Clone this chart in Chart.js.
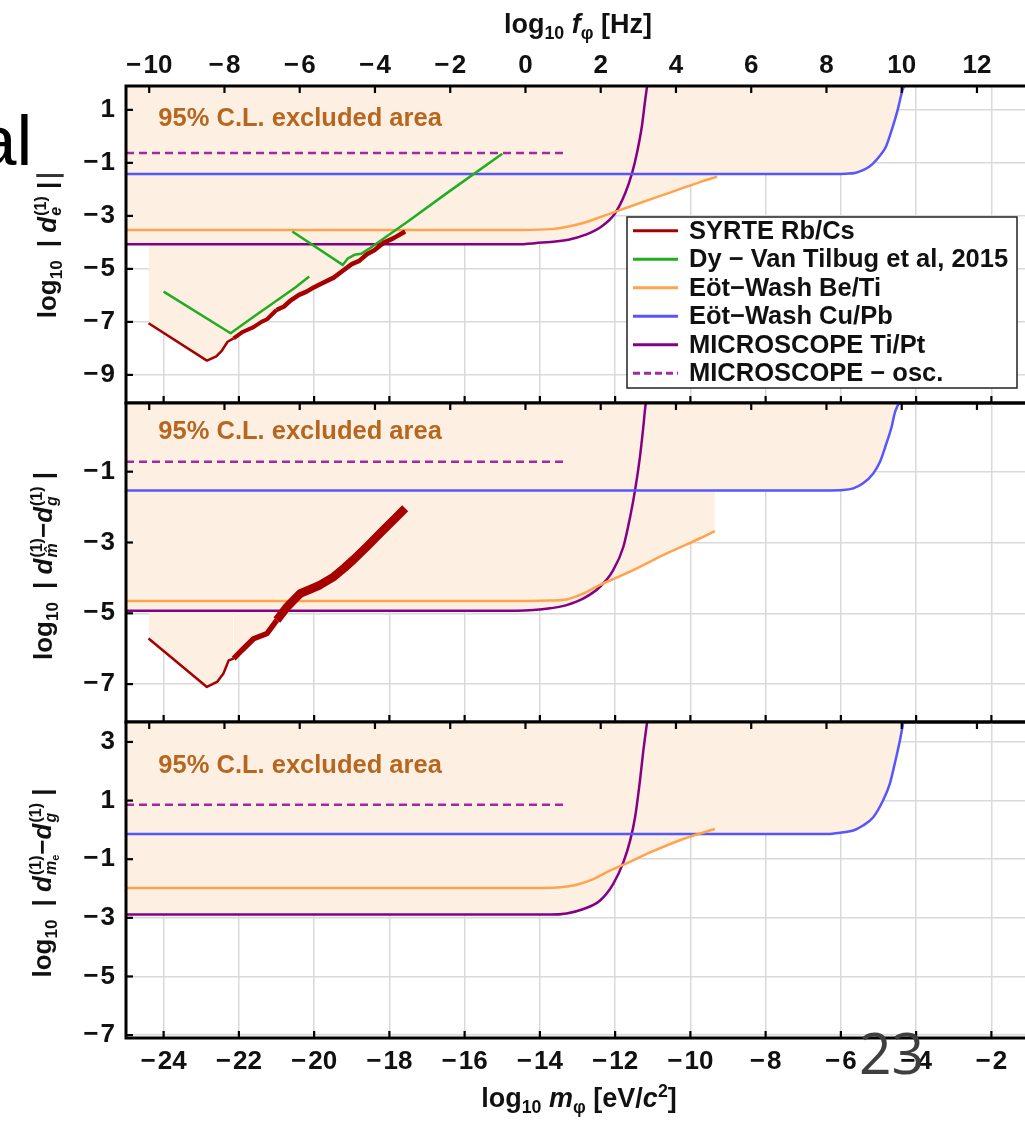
<!DOCTYPE html>
<html>
<head>
<meta charset="utf-8">
<title>Equivalence-principle limits on scalar dark matter couplings</title>
<script src="https://cdn.jsdelivr.net/npm/chart.js@4.4.1/dist/chart.umd.min.js"></script>
<style>
  html, body { margin: 0; padding: 0; background: #fff; width: 1025px; height: 1121px; overflow: hidden; }
  #stage { position: relative; width: 1040px; height: 1121px; }
  #stage canvas { position: absolute; left: 0; }
  .txt { position: absolute; white-space: nowrap; font-family: 'Liberation Sans', Arial, sans-serif; color: #111; line-height: 1; }
  .xt { font-size: 27px; font-weight: bold; transform: translate(-50%, -50%); }
  .yt { font-size: 26px; font-weight: bold; transform: translate(-50%, -50%) rotate(-90deg); }
  .txt sub, .txt sup { font-size: 0.66em; line-height: 0; }
  .ss { display: inline-flex; flex-direction: column; font-size: 16px; line-height: 15px; vertical-align: 10px; margin-left: 1px; }
  .ss .s2 { font-size: 11px; position: relative; top: 3px; }
</style>
</head>
<body>
<div id="stage">
  <canvas id="p1" width="1040" height="410" style="top:0"></canvas>
  <canvas id="p2" width="1040" height="334" style="top:396px"></canvas>
  <canvas id="p3" width="1040" height="406" style="top:715px"></canvas>

  <div class="txt xt" style="left:578px;top:24px">log<sub>10</sub> <i>f</i><sub>φ</sub> [Hz]</div>
  <div class="txt xt" style="left:579px;top:1098px">log<sub>10</sub> <i>m</i><sub>φ</sub> [eV/<i>c</i><sup>2</sup>]</div>

  <div class="txt yt" style="left:48px;top:250px">log<sub>10</sub>&ensp;| <i>d</i><span class="ss"><span>(1)</span><i>e</i></span> |</div>
  <div class="txt yt" style="left:44px;top:566px">log<sub>10</sub>&ensp;| <i>d</i><span class="ss"><span>(1)</span><i>m̂</i></span>−<i>d</i><span class="ss"><span>(1)</span><i>g</i></span> |</div>
  <div class="txt yt" style="left:44px;top:883px">log<sub>10</sub>&ensp;| <i>d</i><span class="ss"><span>(1)</span><span><i>m</i><span class="s2">e</span></span></span>−<i>d</i><span class="ss"><span>(1)</span><i>g</i></span> |</div>

  <div class="txt" style="left:-23px;top:105px;font-size:71px;line-height:71px;color:#000">al</div>
  <div class="txt" style="left:37px;top:128px;font-size:47px;line-height:47px;color:#333">_</div>
  <div class="txt" style="left:859px;top:1024px;font-family:'Open Sans',sans-serif;font-weight:400;font-size:57px;line-height:57px;color:#3f3f3f">23</div>
</div>

<script>
// shared axes
const M_TICKS = [-24, -22, -20, -18, -16, -14, -12, -10, -8, -6, -4, -2];
const F_TICKS = [-10, -8, -6, -4, -2, 0, 2, 4, 6, 8, 10, 12];
const HZ_OFFSET = 14.383; // log10 f[Hz] = log10 m[eV] + log10(e/h)

const SERIES = ['SYRTE Rb/Cs', 'Dy − Van Tilbug et al, 2015', 'Eöt−Wash Be/Ti',
                'Eöt−Wash Cu/Pb', 'MICROSCOPE Ti/Pt', 'MICROSCOPE − osc.'];

// panel 1: |d_e|
const P1_Y_TICKS = [-9, -7, -5, -3, -1, 1];
const P1_SYRTE_M = [-24.4, -22.85, -22.6, -22.45, -22.3, -22.14, -21.9, -21.61, -21.4, -21.25, -21.0, -20.8, -20.63, -20.4, -20.2, -20.01, -19.8, -19.48, -19.22, -19.0, -18.8, -18.6, -18.4, -18.16, -17.9, -17.58];
const P1_SYRTE_Y = [-7.05, -8.46, -8.3, -8.08, -7.75, -7.62, -7.38, -7.2, -7.0, -6.9, -6.55, -6.42, -6.2, -5.98, -5.86, -5.7, -5.55, -5.33, -5.05, -4.82, -4.7, -4.45, -4.3, -4.02, -3.85, -3.59];
const P1_DY_M = [-24.0, -22.22, -21.6, -21.0, -20.5, -20.13, -20.35, -20.58, -19.24, -19.1, -18.93, -18.75, -18.5, -17.5, -16.5, -15.0];
const P1_DY_Y = [-5.86, -7.43, -6.8, -6.2, -5.7, -5.29, null, -3.59, -4.85, -4.6, -4.47, -4.43, -4.2, -3.2, -2.17, -0.66];
const P1_BETI_M = [-25, -14.5, -13.69, -13.24, -12.8, -12.36, -11.91, -11.47, -10.58, -9.69, -9.29];
const P1_BETI_Y = [-3.53, -3.53, -3.5, -3.4, -3.25, -3.03, -2.8, -2.58, -2.14, -1.7, -1.52];
const P1_CUPB_M = [-25, -6.2, -5.87, -5.6, -5.24, -4.98, -4.8, -4.62, -4.49, -4.36, -4.31];
const P1_CUPB_Y = [-1.42, -1.42, -1.41, -1.37, -1.14, -0.76, -0.38, 0.37, 1.0, 1.75, 1.9];
const P1_TIPT_M = [-25, -14.6, -14.13, -13.24, -12.8, -12.36, -12.0, -11.73, -11.55, -11.42, -11.29, -11.2, -11.15];
const P1_TIPT_Y = [-4.07, -4.07, -4.03, -3.9, -3.72, -3.4, -2.9, -2.14, -1.39, -0.63, 0.37, 1.38, 1.9];
const P1_OSC_M = [-25, -13.38];
const P1_OSC_Y = [-0.63, -0.63];

// panel 2: |d_mhat - d_g|
const P2_Y_TICKS = [-7, -5, -3, -1];
const P2_SYRTE_M = [-24.4, -22.85, -22.58, -22.41, -22.27, -22.14, -21.9, -21.61, -21.25, -20.99, -20.72, -20.5, -20.37, -20.1, -19.84, -19.48, -19.2, -18.95, -18.6, -18.16, -17.85, -17.58];
const P2_SYRTE_Y = [-5.71, -7.08, -6.94, -6.7, -6.33, -6.28, -6.02, -5.72, -5.57, -5.19, -4.82, -4.58, -4.44, -4.32, -4.2, -3.97, -3.72, -3.48, -3.12, -2.65, -2.32, -2.03];
const P2_BETI_M = [-25, -14.3, -13.73, -13.29, -12.84, -12.4, -11.96, -11.52, -10.63, -9.74, -9.35];
const P2_BETI_Y = [-4.65, -4.65, -4.64, -4.61, -4.44, -4.2, -3.99, -3.78, -3.31, -2.88, -2.68];
const P2_CUPB_M = [-25, -6.3, -5.94, -5.67, -5.41, -5.14, -4.96, -4.79, -4.65, -4.57, -4.48, -4.46];
const P2_CUPB_Y = [-1.53, -1.53, -1.52, -1.47, -1.33, -1.05, -0.72, -0.2, 0.27, 0.65, 0.89, 0.94];
const P2_TIPT_M = [-25, -14.6, -14.17, -13.73, -13.29, -12.84, -12.4, -12.05, -11.78, -11.6, -11.47, -11.34, -11.25, -11.19, -11.17];
const P2_TIPT_Y = [-4.93, -4.93, -4.91, -4.86, -4.77, -4.58, -4.25, -3.78, -3.12, -2.27, -1.52, -0.58, 0.27, 0.89, 0.94];
const P2_OSC_M = [-25, -13.38];
const P2_OSC_Y = [-0.72, -0.72];

// panel 3: |d_me - d_g|
const P3_Y_TICKS = [-7, -5, -3, -1, 1, 3];
const P3_BETI_M = [-25, -13.9, -13.46, -13.02, -12.58, -12.14, -11.69, -11.07, -10.19, -9.35];
const P3_BETI_Y = [-1.98, -1.98, -1.96, -1.87, -1.68, -1.39, -1.14, -0.77, -0.31, 0.03];
const P3_CUPB_M = [-25, -6.38, -5.94, -5.67, -5.41, -5.14, -4.88, -4.7, -4.57, -4.43, -4.34];
const P3_CUPB_Y = [-0.14, -0.14, -0.08, -0.02, 0.15, 0.43, 1.0, 1.57, 2.25, 3.06, 3.68];
const P3_TIPT_M = [-25, -14.2, -13.73, -13.29, -12.84, -12.4, -12.05, -11.78, -11.6, -11.47, -11.34, -11.25, -11.15];
const P3_TIPT_Y = [-2.89, -2.89, -2.89, -2.85, -2.7, -2.41, -1.84, -1.1, -0.36, 0.43, 1.68, 2.7, 3.68];
const P3_OSC_M = [-25, -13.38];
const P3_OSC_Y = [0.86, 0.86];

const NOTE = '95% C.L. excluded area';

const FILL = '#fdf0e3';
const GRID = '#d9d9d9';
const INK = '#111';
const FONT = "'Liberation Sans', Arial, sans-serif";

const STYLE = {
  syrte: { color: '#a60000', width: 2.5 },
  dy: { color: '#1fae1f', width: 2.5 },
  beti: { color: '#ffa34d', width: 2.5, smooth: true },
  cupb: { color: '#5656ff', width: 2.5, smooth: true },
  tipt: { color: '#840084', width: 2.5, smooth: true },
  osc: { color: '#a4289f', width: 2.5, dash: [8, 5] },
};

const minus = (v) => String(v).replace('-', '\u2212\u200a');

function line(label, ms, ys, style, band) {
  const ds = {
    label,
    data: ms.map((m, i) => ({ x: m, y: ys[i] })),
    borderColor: style.color,
    borderWidth: style.width,
    borderDash: style.dash || [],
    borderCapStyle: 'butt',
    borderJoinStyle: 'round',
    backgroundColor: FILL,
    fill: 'end',
    pointRadius: 0,
    tension: 0,
    cubicInterpolationMode: style.smooth ? 'monotone' : 'default',
  };
  // the noisy SYRTE band is drawn as a thicker stroke
  if (band) {
    ds.segment = {
      borderWidth: (c) => {
        const m = c.p0.parsed.x;
        if (m < -22.2) return style.width;
        return m < -21.1 ? band[0] : band[1];
      },
    };
  }
  return ds;
}

/* Black frame with short inward ticks on every side. */
const frame = {
  id: 'frame',
  afterDatasetsDraw(chart) {
    const { ctx, chartArea: a, scales } = chart;
    ctx.save();
    ctx.strokeStyle = '#000';
    ctx.lineWidth = 2.2;
    const seg = (x1, y1, x2, y2) => {
      ctx.beginPath();
      ctx.moveTo(x1, y1);
      ctx.lineTo(x2, y2);
      ctx.stroke();
    };
    scales.x.ticks.forEach((t) => {
      const px = scales.x.getPixelForValue(t.value);
      seg(px, a.bottom, px, a.bottom - 7);
    });
    scales.xf.ticks.forEach((t) => {
      const px = scales.xf.getPixelForValue(t.value);
      seg(px, a.top, px, a.top + 7);
    });
    scales.y.ticks.forEach((t) => {
      const py = scales.y.getPixelForValue(t.value);
      seg(a.left, py, a.left + 7, py);
    });
    ctx.lineWidth = 3;
    ctx.strokeRect(a.left, a.top, a.right - a.left, a.bottom - a.top);
    ctx.restore();
  },
};

/* "95% C.L. excluded area" label, placed in data coordinates. */
const note = {
  id: 'note',
  afterDatasetsDraw(chart, args, opts) {
    const { ctx, scales } = chart;
    ctx.save();
    ctx.font = `bold 25.5px ${FONT}`;
    ctx.fillStyle = '#b7661f';
    ctx.textAlign = 'left';
    ctx.textBaseline = 'middle';
    ctx.fillText(NOTE, scales.x.getPixelForValue(opts.x), scales.y.getPixelForValue(opts.y));
    ctx.restore();
  },
};

/* Boxed legend inside the top panel, built from the datasets. */
const legendBox = {
  id: 'legendBox',
  afterDraw(chart, args, opts) {
    if (!opts.show) return;
    const { ctx } = chart;
    ctx.save();
    ctx.fillStyle = '#fff';
    ctx.fillRect(opts.left, opts.top, opts.right - opts.left, opts.bottom - opts.top);
    ctx.strokeStyle = '#222';
    ctx.lineWidth = 1.5;
    ctx.strokeRect(opts.left, opts.top, opts.right - opts.left, opts.bottom - opts.top);
    ctx.font = `bold 25.5px ${FONT}`;
    ctx.textBaseline = 'middle';
    ctx.fillStyle = INK;
    chart.data.datasets.forEach((ds, i) => {
      const y = opts.top + opts.first + i * opts.row;
      ctx.strokeStyle = ds.borderColor;
      ctx.lineWidth = 3;
      ctx.setLineDash(ds.borderDash.length ? [7, 4] : []);
      ctx.beginPath();
      ctx.moveTo(opts.lineX0, y);
      ctx.lineTo(opts.lineX1, y);
      ctx.stroke();
      ctx.setLineDash([]);
      ctx.fillText(ds.label, opts.textX, y + 1);
    });
    ctx.restore();
  },
};

function makePanel(id, cfg) {
  const tickFont = { family: FONT, size: 26, weight: 'bold' };
  return new Chart(document.getElementById(id), {
    type: 'line',
    data: { datasets: cfg.datasets },
    options: {
      responsive: false,
      animation: false,
      devicePixelRatio: 1,
      layout: { padding: { left: 0, right: 11, top: cfg.padTop, bottom: cfg.padBottom } },
      elements: { point: { radius: 0 } },
      plugins: {
        legend: { display: false },
        tooltip: { enabled: false },
        filler: { drawTime: 'beforeDatasetsDraw' },
        note: cfg.note,
        legendBox: cfg.legend || { show: false },
      },
      scales: {
        x: {
          type: 'linear',
          position: 'bottom',
          min: -25,
          max: -1,
          afterBuildTicks: (s) => { s.ticks = M_TICKS.map((v) => ({ value: v })); },
          afterFit: (s) => { s.height = cfg.bottomH; s.paddingLeft = 0; s.paddingRight = 0; },
          grid: { color: GRID, lineWidth: 1.5, drawTicks: false },
          border: { display: false },
          ticks: { display: cfg.bottomH > 0, padding: 8, color: INK, font: tickFont, autoSkip: false, maxRotation: 0, callback: minus },
        },
        xf: {
          type: 'linear',
          position: 'top',
          min: -25 + HZ_OFFSET,
          max: -1 + HZ_OFFSET,
          afterBuildTicks: (s) => { s.ticks = F_TICKS.map((v) => ({ value: v })); },
          afterFit: (s) => { s.height = cfg.topH; s.paddingLeft = 0; s.paddingRight = 0; },
          grid: { display: false, drawTicks: false },
          border: { display: false },
          ticks: { display: cfg.topH > 0, padding: 5, color: INK, font: tickFont, autoSkip: false, maxRotation: 0, callback: minus },
        },
        y: {
          type: 'linear',
          position: 'left',
          min: cfg.yMin,
          max: cfg.yMax,
          afterBuildTicks: (s) => { s.ticks = cfg.yTicks.map((v) => ({ value: v })); },
          afterFit: (s) => { s.width = 126; s.paddingTop = 0; s.paddingBottom = 0; },
          grid: { color: GRID, lineWidth: 1.5, drawTicks: false },
          border: { display: false },
          ticks: { padding: 11, color: INK, font: tickFont, callback: minus },
        },
      },
    },
    plugins: [frame, note, legendBox],
  });
}

makePanel('p1', {
  padTop: 0, padBottom: 7, topH: 86, bottomH: 0,
  yMin: -10.06, yMax: 1.9, yTicks: P1_Y_TICKS,
  note: { x: -24.14, y: 0.66 },
  legend: { show: true, left: 627, top: 217, right: 1017, bottom: 388, first: 13.7, row: 28.5, lineX0: 633, lineX1: 678, textX: 689 },
  datasets: [
    line(SERIES[0], P1_SYRTE_M, P1_SYRTE_Y, STYLE.syrte, [4, 4.5]),
    line(SERIES[1], P1_DY_M, P1_DY_Y, STYLE.dy),
    line(SERIES[2], P1_BETI_M, P1_BETI_Y, STYLE.beti),
    line(SERIES[3], P1_CUPB_M, P1_CUPB_Y, STYLE.cupb),
    line(SERIES[4], P1_TIPT_M, P1_TIPT_Y, STYLE.tipt),
    line(SERIES[5], P1_OSC_M, P1_OSC_Y, STYLE.osc),
  ],
});

makePanel('p2', {
  padTop: 7, padBottom: 8, topH: 0, bottomH: 0,
  yMin: -8.07, yMax: 0.94, yTicks: P2_Y_TICKS,
  note: { x: -24.14, y: 0.13 },
  datasets: [
    line(SERIES[0], P2_SYRTE_M, P2_SYRTE_Y, STYLE.syrte, [5.5, 8.5]),
    line(SERIES[2], P2_BETI_M, P2_BETI_Y, STYLE.beti),
    line(SERIES[3], P2_CUPB_M, P2_CUPB_Y, STYLE.cupb),
    line(SERIES[4], P2_TIPT_M, P2_TIPT_Y, STYLE.tipt),
    line(SERIES[5], P2_OSC_M, P2_OSC_Y, STYLE.osc),
  ],
});

makePanel('p3', {
  padTop: 7, padBottom: 0, topH: 0, bottomH: 83,
  yMin: -7.1, yMax: 3.68, yTicks: P3_Y_TICKS,
  note: { x: -24.14, y: 2.19 },
  datasets: [
    line(SERIES[2], P3_BETI_M, P3_BETI_Y, STYLE.beti),
    line(SERIES[3], P3_CUPB_M, P3_CUPB_Y, STYLE.cupb),
    line(SERIES[4], P3_TIPT_M, P3_TIPT_Y, STYLE.tipt),
    line(SERIES[5], P3_OSC_M, P3_OSC_Y, STYLE.osc),
  ],
});
</script>
</body>
</html>
